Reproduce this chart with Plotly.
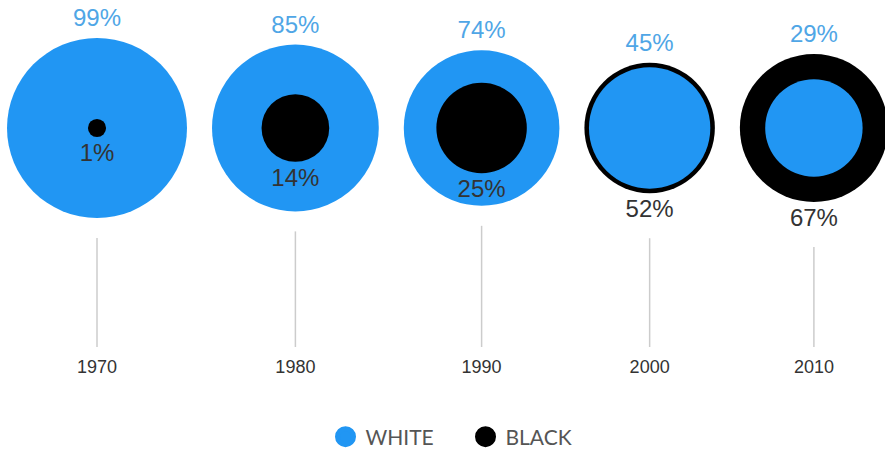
import numpy as np
import plotly.graph_objects as go

# ---- data ----
years = ["1970", "1980", "1990", "2000", "2010"]
white = [99, 85, 74, 45, 29]
black = [1, 14, 25, 52, 67]

# ---- style / layout constants ----
BLUE = "#2196F3"
BLACK = "#000000"
BLUE_TEXT = "#4FA6E6"
DARK_TEXT = "#333333"
W, H = 885, 450
PLOT_BOTTOM = 354      # px from top where the plot area ends
CY = 128               # vertical centre of the circles (px units of y axis)
MAX_R = 90             # radius (px) of the largest circle
GAP = 25               # gap between neighbouring circles
LEFT = 7               # left edge of first circle
LINE_BOTTOM = 347

# plotly area sizing: radius = sqrt(v / (2 * sizeref))
sizeref = max(white) / (2 * MAX_R ** 2)

w = np.array(white, dtype=float)
b = np.array(black, dtype=float)
rw = np.sqrt(w / (2 * sizeref))
rb = np.sqrt(b / (2 * sizeref))
outer = np.maximum(rw, rb)

# x centres packed from circle sizes
steps = outer[:-1] + GAP + outer[1:]
xs = LEFT + outer[0] + np.concatenate([[0], np.cumsum(steps)])
cy = np.full(len(years), CY, dtype=float)

white_front = w < b
back_size = np.maximum(w, b)
front_size = np.minimum(w, b)
back_col = [BLACK if wf else BLUE for wf in white_front]
front_col = [BLUE if wf else BLACK for wf in white_front]

fig = go.Figure()

# back circles (larger of the pair)
fig.add_trace(go.Scatter(
    x=xs, y=cy, mode="markers", showlegend=False, hoverinfo="skip",
    marker=dict(size=back_size, sizemode="area", sizeref=sizeref,
                color=back_col, line=dict(width=0), opacity=1),
))
# front circles (smaller of the pair)
fig.add_trace(go.Scatter(
    x=xs, y=cy, mode="markers", showlegend=False, hoverinfo="skip",
    marker=dict(size=front_size, sizemode="area", sizeref=sizeref,
                color=front_col, line=dict(width=0), opacity=1),
))

# labels
white_label_y = CY - outer - 18
black_label_y = CY + rb + 18
fig.add_trace(go.Scatter(
    x=xs, y=white_label_y, mode="text", showlegend=False, hoverinfo="skip",
    text=[f"{v}%" for v in white], textposition="middle center",
    textfont=dict(family="Liberation Sans, Arial, sans-serif", size=24, color=BLUE_TEXT),
))
fig.add_trace(go.Scatter(
    x=xs, y=black_label_y, mode="text", showlegend=False, hoverinfo="skip",
    text=[f"{v}%" for v in black], textposition="middle center",
    textfont=dict(family="Liberation Sans, Arial, sans-serif", size=24, color=DARK_TEXT),
))

# vertical connector lines
line_top = np.maximum(CY + outer + 20, black_label_y + 27)
lx, ly = [], []
for x, t in zip(xs, line_top):
    lx += [x, x, None]
    ly += [t, LINE_BOTTOM, None]
fig.add_trace(go.Scatter(
    x=lx, y=ly, mode="lines", showlegend=False, hoverinfo="skip",
    line=dict(color="#CCCCCC", width=1.5),
))

# legend entries
fig.add_trace(go.Scatter(
    x=[None], y=[None], mode="markers", name="WHITE",
    marker=dict(size=16, color=BLUE, line=dict(color=BLUE, width=5)),
))
fig.add_trace(go.Scatter(
    x=[None], y=[None], mode="markers", name="BLACK",
    marker=dict(size=16, color=BLACK, line=dict(color=BLACK, width=5)),
))

fig.update_layout(
    width=W, height=H,
    margin=dict(l=0, r=0, t=0, b=H - PLOT_BOTTOM, pad=0),
    paper_bgcolor="white", plot_bgcolor="white",
    xaxis=dict(range=[0, W], tickvals=xs, ticktext=years, showgrid=False,
               zeroline=False, showline=False, ticks="", fixedrange=True,
               tickfont=dict(family="Liberation Sans, Arial, sans-serif", size=18, color=DARK_TEXT)),
    yaxis=dict(range=[PLOT_BOTTOM, 0], visible=False, fixedrange=True),
    legend=dict(orientation="h", xref="container", yref="container",
                x=0.526, y=1 - 437 / H, xanchor="center", yanchor="middle",
                font=dict(family="Lato, sans-serif", size=21, color="#555555"),
                itemsizing="trace", entrywidth=95, entrywidthmode="pixels",
                bgcolor="rgba(0,0,0,0)"),
    showlegend=True,
)

fig.write_html("out.html", config={"displayModeBar": False},
               post_script="document.body.style.margin='0';")
